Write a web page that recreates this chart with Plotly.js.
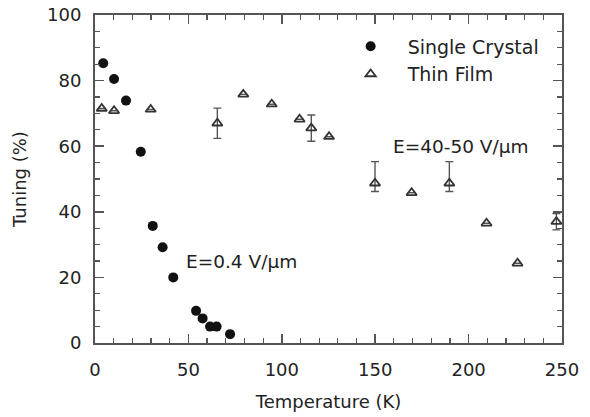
<!DOCTYPE html>
<html>
<head>
<meta charset="utf-8">
<script src="https://cdn.plot.ly/plotly-3.0.1.min.js"></script>
<style>html,body{margin:0;padding:0;background:#fff;}</style>
</head>
<body>
<div id="chart" style="width:590px;height:417px;"></div>
<script>
// Single Crystal (E = 0.4 V/µm)
var crystalT = [4.4, 10.2, 16.6, 24.5, 30.9, 36.2, 41.9, 54.1, 57.6, 61.6, 65.1, 72.3];
var crystalTuning = [85.3, 80.5, 73.9, 58.3, 35.7, 29.2, 20.0, 9.8, 7.5, 5.0, 5.0, 2.7];

// Thin Film (E = 40-50 V/µm)
var filmT = [3.6, 10.2, 29.8, 65.5, 79.4, 94.6, 109.5, 115.8, 125.3, 149.9, 169.5, 189.7, 209.6, 226.2, 247];
var filmTuning = [71.5, 70.8, 71.2, 67.0, 75.8, 72.8, 68.2, 65.5, 62.9, 48.7, 45.8, 48.7, 36.5, 24.3, 37.0];
var filmErrPlus = [null, null, null, 4.6, null, null, null, 4.0, null, 6.6, null, 6.6, null, null, 2.5];
var filmErrMinus = [null, null, null, 4.6, null, null, null, 4.0, null, 2.5, null, 2.5, null, null, 2.5];

var xTicks = [0, 50, 100, 150, 200, 250];
var yTicks = [0, 20, 40, 60, 80, 100];

var FONT = 'DejaVu Sans, Liberation Sans, Arial, sans-serif';
var INK = '#222222';
var AXC = '#555555';

var traces = [
  {
    x: crystalT, y: crystalTuning, name: 'Single Crystal',
    type: 'scatter', mode: 'markers', cliponaxis: false,
    marker: {symbol: 'circle', size: 10, color: '#111111', line: {width: 0}}
  },
  {
    x: filmT, y: filmTuning, name: 'Thin Film',
    type: 'scatter', mode: 'markers', cliponaxis: false,
    marker: {symbol: 'triangle-up-open', size: 9, color: '#333333', line: {width: 1.8, color: '#333333'}},
    error_y: {type: 'data', symmetric: false, array: filmErrPlus, arrayminus: filmErrMinus,
              color: '#555555', thickness: 1.4, width: 4}
  }
];

var axisCommon = {
  showgrid: false, zeroline: false, showline: true, linecolor: AXC, linewidth: 2,
  mirror: 'allticks', ticks: 'inside', ticklen: 9, tickwidth: 1.5, tickcolor: AXC,
  tickfont: {family: FONT, size: 18, color: INK},
  minor: {ticks: 'inside', ticklen: 5, tickwidth: 1.2, tickcolor: AXC}
};

var layout = {
  width: 590, height: 417,
  paper_bgcolor: '#ffffff', plot_bgcolor: '#ffffff',
  margin: {l: 95, r: 28, t: 15, b: 74},
  showlegend: true,
  legend: {
    x: 0.511, y: 0.962, xanchor: 'left', yanchor: 'top',
    bgcolor: 'rgba(0,0,0,0)', borderwidth: 0,
    font: {family: FONT, size: 19, color: INK},
    itemwidth: 64, tracegroupgap: 0
  },
  xaxis: Object.assign({}, axisCommon, {
    range: [0, 250], tickvals: xTicks, ticktext: xTicks.map(String),
    ticklabelstandoff: 9,
    minor: Object.assign({}, axisCommon.minor, {dtick: 10, tick0: 0}),
    title: {text: 'Temperature (K)', font: {family: FONT, size: 18, color: INK}, standoff: 17}
  }),
  yaxis: Object.assign({}, axisCommon, {
    range: [0, 100], tickvals: yTicks, ticktext: yTicks.map(String),
    ticklabelstandoff: 8,
    minor: Object.assign({}, axisCommon.minor, {dtick: 5, tick0: 0}),
    title: {text: 'Tuning (%)', font: {family: FONT, size: 18, color: INK}, standoff: 16}
  }),
  annotations: [
    {x: 47.6, y: 24.7, xref: 'x', yref: 'y', xanchor: 'left', yanchor: 'middle',
     text: 'E=0.4 V/µm', showarrow: false, font: {family: FONT, size: 18.5, color: INK}},
    {x: 158.5, y: 59.8, xref: 'x', yref: 'y', xanchor: 'left', yanchor: 'middle',
     text: 'E=40-50 V/µm', showarrow: false, font: {family: FONT, size: 18.5, color: INK}}
  ]
};

Plotly.newPlot('chart', traces, layout, {displayModeBar: false, staticPlot: true});
</script>
</body>
</html>
